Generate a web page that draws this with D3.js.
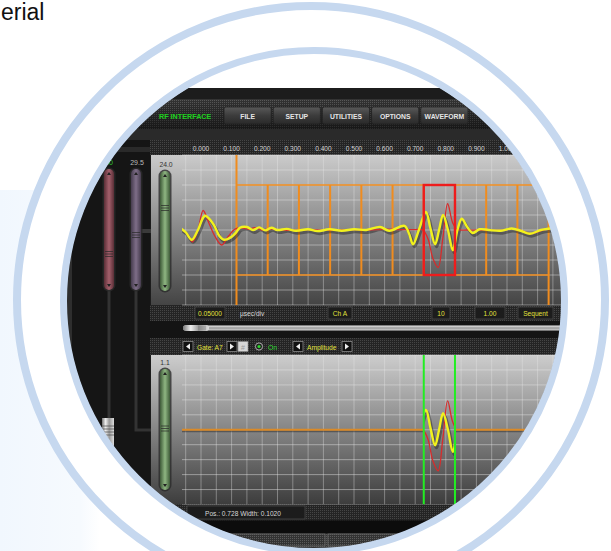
<!DOCTYPE html>
<html><head><meta charset="utf-8">
<script src="https://cdn.jsdelivr.net/npm/d3@7"></script>
<style>body{margin:0;background:#fff}svg{display:block}</style>
</head><body>
<script>
// ---------------- DATA ----------------
const tickValues = [0.0, 0.1, 0.2, 0.3, 0.4, 0.5, 0.6, 0.7, 0.8, 0.9, 1.0];
const tickLabels = ["0.000","0.100","0.200","0.300","0.400","0.500","0.600","0.700","0.800","0.900","1.000"];
const menuItems = ["FILE","SETUP","UTILITIES","OPTIONS","WAVEFORM"];
const appTitle = "RF INTERFACE";
// [time µs, amplitude %]
const yellowTrace = [[-0.065,2],[-0.05,-3],[-0.03,-13],[-0.01,0],[0.013,19],[0.04,8],[0.06,-8],[0.075,-13],[0.10,-9],[0.115,-3],[0.127,3],[0.15,4],[0.17,0],[0.19,3.5],[0.21,-0.5],[0.23,3],[0.25,0],[0.28,1.5],[0.31,-1],[0.35,1],[0.38,-1.5],[0.42,1],[0.46,-1],[0.50,1],[0.54,0],[0.585,4],[0.615,-1],[0.665,5.5],[0.68,-5],[0.693,-19],[0.712,0],[0.735,24],[0.75,2],[0.765,-19],[0.778,0],[0.791,20],[0.807,0],[0.823,-27],[0.838,0],[0.852,15],[0.87,4],[0.888,-4],[0.91,1],[0.94,0],[0.98,-1],[1.015,2],[1.045,-1],[1.075,-5],[1.11,0],[1.14,2],[1.19,4],[1.25,3]];
const redTrace = [[-0.065,1],[-0.045,-5],[-0.028,-16],[-0.01,0],[0.007,26],[0.025,10],[0.045,-8],[0.068,-20],[0.09,-8],[0.11,1],[0.13,3],[0.155,1],[0.175,3],[0.2,0],[0.22,1.5],[0.25,0.5],[0.3,-0.5],[0.35,0.5],[0.4,-0.5],[0.45,0],[0.5,0.5],[0.55,0],[0.6,1],[0.65,0.5],[0.7,0.5],[0.725,0],[0.742,-12],[0.758,-38],[0.775,-50],[0.79,-12],[0.806,35],[0.822,10],[0.836,1],[0.87,0],[0.92,0],[0.98,-0.5],[1.02,1.5],[1.05,-1],[1.075,-5],[1.11,-1],[1.14,2],[1.19,3],[1.25,3]];
const gateStarts = [0.116,0.218,0.320,0.422,0.524,0.626,0.728,0.830,0.932,1.034];
const gateWidth = 0.102;
const gateLevels = [60,-60];
const selectedGate = 6;
const upperGainLabel = "24.0";
const lowerGain = 1.1;
const leftSliderLabels = ["30","29.5"];
const statusTexts = ["0.05000","µsec/div","Ch  A","10","1.00","Sequent"];
const gateCtrlTexts = ["Gate: A7","On","Amplitude"];
const posText = "Pos.:  0.728 Width: 0.1020";
const headingText = "erial";

// ---------------- LAYOUT ----------------
const W=611,H=551;
const svg=d3.select("body").append("svg").attr("width",W).attr("height",H);
const defs=svg.append("defs");
const ff="'Liberation Sans', Arial, sans-serif";

function vgrad(id,stops){const g=defs.append("linearGradient").attr("id",id).attr("x1",0).attr("y1",0).attr("x2",0).attr("y2",1);
  stops.forEach(s=>g.append("stop").attr("offset",s[0]).attr("stop-color",s[1]).attr("stop-opacity",s[2]==null?1:s[2]));}
function hgrad(id,stops){const g=defs.append("linearGradient").attr("id",id).attr("x1",0).attr("y1",0).attr("x2",1).attr("y2",0);
  stops.forEach(s=>g.append("stop").attr("offset",s[0]).attr("stop-color",s[1]).attr("stop-opacity",s[2]==null?1:s[2]));}
vgrad("plotU",[[0,"#cbcbcb"],[0.45,"#8e8e8e"],[1,"#444"]]);
vgrad("plotL",[[0,"#cdcdcd"],[0.45,"#8c8c8c"],[1,"#3c3c3c"]]);
vgrad("menuShade",[[0,"#000",0],[1,"#000",0.55]]);
vgrad("btn",[[0,"#5a5a5a"],[0.5,"#3c3c3c"],[1,"#2a2a2a"]]);
vgrad("scroll",[[0,"#f0f0f0"],[0.5,"#9a9a9a"],[1,"#d8d8d8"]]);
hgrad("sGreen",[[0,"#3e5a38"],[0.5,"#8fb682"],[1,"#3e5a38"]]);
hgrad("sRed",[[0,"#5a2e36"],[0.5,"#a4606c"],[1,"#5a2e36"]]);
hgrad("sPurple",[[0,"#463c4e"],[0.5,"#7e6e88"],[1,"#463c4e"]]);
hgrad("metal",[[0,"#777"],[0.3,"#eee"],[0.6,"#999"],[1,"#ddd"]]);
hgrad("bluebg",[[0,"#f1f7fe"],[0.8,"#f6fafe"],[1,"#fff"]]);

const p1=defs.append("pattern").attr("id","tex").attr("width",2).attr("height",2).attr("patternUnits","userSpaceOnUse");
p1.append("rect").attr("width",2).attr("height",2).attr("fill","#242424");
p1.append("rect").attr("width",1).attr("height",1).attr("fill","#454545");
const p2=defs.append("pattern").attr("id","tex2").attr("width",2).attr("height",2).attr("patternUnits","userSpaceOnUse");
p2.append("rect").attr("width",2).attr("height",2).attr("fill","#333");
p2.append("rect").attr("width",1).attr("height",1).attr("fill","#5a5a5a");

const CX=314, CY=301, RIN=250.5;
defs.append("clipPath").attr("id","circ").append("circle").attr("cx",CX).attr("cy",CY).attr("r",RIN-3);

// background outside
svg.append("rect").attr("x",0).attr("y",190).attr("width",100).attr("height",H-190).attr("fill","url(#bluebg)");
svg.append("circle").attr("cx",311).attr("cy",300).attr("r",294).attr("fill","#fff");
svg.append("text").attr("x",1).attr("y",20).attr("font-family",ff).attr("font-size",23).attr("fill","#111").text(headingText);

// ---------------- SCREENSHOT ----------------
const scr=svg.append("g").attr("clip-path","url(#circ)");
scr.append("rect").attr("x",40).attr("y",88).attr("width",580).attr("height",470).attr("fill","#1c1c1c").attr("rx",12);

// scales
const x=d3.scaleLinear().domain([0,1]).range([201,507]);
const yU=d3.scaleLinear().domain([-100,100]).range([305,155]);
const yL=d3.scaleLinear().domain([-100,100]).range([504.5,355]);

// left panel
scr.append("rect").attr("x",40).attr("y",140).attr("width",110).attr("height",420).attr("fill","#151515");
scr.append("rect").attr("x",67).attr("y",220).attr("width",5).attr("height",200).attr("fill","#2e2e2e");
scr.append("rect").attr("x",88).attr("y",147).attr("width",64).attr("height",5).attr("fill","#2a2a2a");
// tracks
scr.append("path").attr("d","M109,290V420").attr("stroke","#333").attr("stroke-width",3).attr("fill","none");
scr.append("path").attr("d","M136,290V430H152").attr("stroke","#333").attr("stroke-width",3).attr("fill","none");
scr.append("path").attr("d","M141,231H152").attr("stroke","#3a3a3a").attr("stroke-width",4).attr("fill","none");
// metal handle
scr.append("rect").attr("x",102).attr("y",418).attr("width",12).attr("height",30).attr("fill","url(#metal)");
[426,429,432,435].forEach(yy=>scr.append("line").attr("x1",102).attr("x2",114).attr("y1",yy).attr("y2",yy).attr("stroke","#555").attr("stroke-width",0.8));

function slider(g,x0,y0,w,h,grad,hy){
  g.append("rect").attr("x",x0-1.5).attr("y",y0-1.5).attr("width",w+3).attr("height",h+3).attr("rx",(w+3)/2).attr("fill","#2a2a2a").attr("opacity",0.8);
  g.append("rect").attr("x",x0).attr("y",y0).attr("width",w).attr("height",h).attr("rx",w/2).attr("fill",`url(#${grad})`);
  const cx=x0+w/2;
  g.append("path").attr("d",`M${cx-2},${y0+6}L${cx+2},${y0+6}L${cx},${y0+3}Z`).attr("fill","#222");
  g.append("path").attr("d",`M${cx-2},${y0+h-6}L${cx+2},${y0+h-6}L${cx},${y0+h-3}Z`).attr("fill","#222");
  [-2.5,0,2.5].forEach(d=>g.append("line").attr("x1",x0+1).attr("x2",x0+w-1).attr("y1",hy+d).attr("y2",hy+d).attr("stroke","#2a2a2a").attr("stroke-width",0.9).attr("opacity",0.8));
}
slider(scr,104,169,10,121,"sRed",254);
slider(scr,131,169,10,121,"sPurple",235);
scr.append("text").attr("x",109).attr("y",165).attr("text-anchor","middle").attr("font-family",ff).attr("font-size",7).attr("fill","#2ecc2e").text(leftSliderLabels[0]);
scr.append("text").attr("x",137).attr("y",165).attr("text-anchor","middle").attr("font-family",ff).attr("font-size",7).attr("fill","#bbb").text(leftSliderLabels[1]);

// menu bar
scr.append("rect").attr("x",40).attr("y",99).attr("width",580).attr("height",30).attr("fill","url(#tex2)");
scr.append("rect").attr("x",40).attr("y",99).attr("width",580).attr("height",30).attr("fill","url(#menuShade)");
scr.append("text").attr("x",159).attr("y",119).attr("font-family",ff).attr("font-weight","bold").attr("font-size",7.2).attr("fill","#1ed21e").text(appTitle);
const mb=d3.scaleBand().domain(menuItems).range([224,468]).paddingInner(0.04);
const btn=scr.selectAll("g.btn").data(menuItems).join("g");
btn.append("rect").attr("x",d=>mb(d)).attr("y",107).attr("width",mb.bandwidth()).attr("height",17).attr("rx",2).attr("fill","url(#btn)").attr("stroke","#222").attr("stroke-width",0.8);
btn.append("text").attr("x",d=>mb(d)+mb.bandwidth()/2).attr("y",118.5).attr("text-anchor","middle").attr("font-family",ff).attr("font-weight","bold").attr("font-size",6.8).attr("fill","#e6e6e6").text(d=>d);
scr.append("rect").attr("x",40).attr("y",129).attr("width",580).attr("height",11).attr("fill","#2a2a2a");

// ---------- UPPER PANEL ----------
scr.append("rect").attr("x",150).attr("y",140).attr("width",470).attr("height",15).attr("fill","url(#tex)");
scr.append("g").selectAll("text").data(tickValues).join("text")
  .attr("x",d=>x(d)).attr("y",151).attr("text-anchor","middle").attr("font-family",ff).attr("font-size",6.6).attr("fill","#d4d4d4")
  .text((d,i)=>tickLabels[i]);
scr.append("rect").attr("x",151).attr("y",155).attr("width",470).attr("height",150).attr("fill","url(#plotU)");
scr.append("rect").attr("x",150).attr("y",305).attr("width",470).attr("height",16).attr("fill","url(#tex)");

const gridT=d3.range(-0.05,1.3,0.05);
const gridA=d3.range(-100,101,20);
function grid(yS,top,bot){
  const g=scr.append("g");
  g.selectAll("line.v").data(gridT).join("line").attr("x1",d=>x(d)).attr("x2",d=>x(d)).attr("y1",top).attr("y2",bot).attr("stroke","#e8e8e8").attr("stroke-opacity",0.38);
  g.selectAll("line.h").data(gridA).join("line").attr("x1",182).attr("x2",620).attr("y1",d=>yS(d)).attr("y2",d=>yS(d)).attr("stroke","#e8e8e8").attr("stroke-opacity",0.45);
}
grid(yU,155,305);

// gates
const gU=scr.append("g");
const gEnd=gateStarts[gateStarts.length-1]+gateWidth;
gU.selectAll("line.gl").data(gateLevels).join("line").attr("x1",x(gateStarts[0])).attr("x2",x(gEnd)).attr("y1",d=>yU(d)).attr("y2",d=>yU(d)).attr("stroke","#f08c1e").attr("stroke-width",1.6);
const edges=gateStarts.concat([gEnd]);
gU.selectAll("line.ge").data(edges).join("line")
  .attr("x1",d=>x(d)).attr("x2",d=>x(d))
  .attr("y1",(d,i)=>(i===0||i===edges.length-1)?155:yU(gateLevels[0]))
  .attr("y2",(d,i)=>(i===0||i===edges.length-1)?305:yU(gateLevels[1]))
  .attr("stroke","#f08c1e").attr("stroke-width",2);

// traces upper
const lineU=d3.line().x(d=>x(d[0])).y(d=>yU(d[1])).curve(d3.curveCatmullRom.alpha(0.5));
defs.append("clipPath").attr("id","plotUclip").append("rect").attr("x",182).attr("y",155).attr("width",440).attr("height",150);
const tU=scr.append("g").attr("clip-path","url(#plotUclip)");
tU.append("path").datum(yellowTrace).attr("d",lineU).attr("fill","none").attr("stroke","#222").attr("stroke-opacity",0.45).attr("stroke-width",3).attr("transform","translate(1.5,2.5)");
tU.append("path").datum(redTrace).attr("d",lineU).attr("fill","none").attr("stroke","#d62c2c").attr("stroke-width",1.3);
tU.append("path").datum(yellowTrace).attr("d",lineU).attr("fill","none").attr("stroke","#f2f21c").attr("stroke-width",2.4);
// selected gate box
const sg=gateStarts[selectedGate];
scr.append("rect").attr("x",x(sg)).attr("y",yU(gateLevels[0])).attr("width",x(sg+gateWidth)-x(sg)).attr("height",yU(gateLevels[1])-yU(gateLevels[0]))
  .attr("fill","none").attr("stroke","#ee1c1c").attr("stroke-width",2.4);

// slider + label upper
slider(scr,160,171,10,120,"sGreen",208);
scr.append("text").attr("x",166).attr("y",167).attr("text-anchor","middle").attr("font-family",ff).attr("font-size",6.8).attr("fill","#333").text(upperGainLabel);

// status boxes
function box(x0,x1,y0,y1){scr.append("rect").attr("x",x0).attr("y",y0).attr("width",x1-x0).attr("height",y1-y0).attr("fill","#1c1c1c").attr("stroke","#4a4a4a").attr("stroke-width",0.8);}
const sBoxes=[[195,225],null,[328,352],[432,450],[475,505],[518,553]];
const sX=[210,240,340,441,490,535.5];
statusTexts.forEach((t,i)=>{
  if(sBoxes[i])box(sBoxes[i][0],sBoxes[i][1],307,319);
  scr.append("text").attr("x",sX[i]).attr("y",315.5).attr("text-anchor",sBoxes[i]?"middle":"start").attr("font-family",ff).attr("font-size",6.6)
    .attr("fill",sBoxes[i]?"#e2e23c":"#d8d8d8").text(t);
});

// scroll bar
scr.append("rect").attr("x",150).attr("y",321).attr("width",470).attr("height",17).attr("fill","#141414");
scr.append("rect").attr("x",183).attr("y",325.5).attr("width",440).attr("height",5).attr("rx",2.5).attr("fill","url(#scroll)");
scr.append("rect").attr("x",183).attr("y",325).attr("width",26).attr("height",6).attr("rx",3).attr("fill","url(#metal)");
[199,201,203,205].forEach(xx=>scr.append("line").attr("x1",xx).attr("x2",xx).attr("y1",325.5).attr("y2",330.5).attr("stroke","#666").attr("stroke-width",0.6));

// ---------- LOWER PANEL ----------
scr.append("rect").attr("x",150).attr("y",338).attr("width",470).attr("height",17).attr("fill","url(#tex)");
function arrowBtn(x0,dir){
  scr.append("rect").attr("x",x0).attr("y",341.5).attr("width",10).attr("height",10).attr("fill","#111").attr("stroke","#8a8a8a").attr("stroke-width",0.8);
  const cx=x0+5,cy=346.5;
  scr.append("path").attr("d",dir<0?`M${cx+2},${cy-3}L${cx-2},${cy}L${cx+2},${cy+3}Z`:`M${cx-2},${cy-3}L${cx+2},${cy}L${cx-2},${cy+3}Z`).attr("fill","#eee");
}
arrowBtn(183,-1);
scr.append("text").attr("x",197).attr("y",349.5).attr("font-family",ff).attr("font-size",6.6).attr("fill","#e2e23c").text(gateCtrlTexts[0]);
arrowBtn(227,1);
scr.append("rect").attr("x",238).attr("y",341.5).attr("width",10).attr("height",10).attr("fill","#d6d6d6").attr("stroke","#888").attr("stroke-width",0.6);
scr.append("text").attr("x",243).attr("y",349.5).attr("text-anchor","middle").attr("font-family",ff).attr("font-size",7).attr("fill","#999").text("#");
scr.append("circle").attr("cx",259).attr("cy",346.5).attr("r",3.6).attr("fill","#222").attr("stroke","#bbb").attr("stroke-width",0.9);
scr.append("circle").attr("cx",259).attr("cy",346.5).attr("r",1.6).attr("fill","#2ed82e");
scr.append("text").attr("x",268).attr("y",349.5).attr("font-family",ff).attr("font-size",6.8).attr("fill","#2ed82e").text(gateCtrlTexts[1]);
arrowBtn(293,-1);
scr.append("text").attr("x",307).attr("y",349.5).attr("font-family",ff).attr("font-size",6.6).attr("fill","#e2e23c").text(gateCtrlTexts[2]);
arrowBtn(342,1);

scr.append("rect").attr("x",151).attr("y",355).attr("width",470).attr("height",150).attr("fill","url(#plotL)");
grid(yL,355,504.5);
const g0=gateStarts[selectedGate], g1=g0+gateWidth;
// baseline outside the gate
const baseY=yL(0);
[[182,x(g0)],[x(g1),620]].forEach(s=>{
  scr.append("line").attr("x1",s[0]).attr("x2",s[1]).attr("y1",baseY+1.6).attr("y2",baseY+1.6).attr("stroke","#222").attr("stroke-opacity",0.45).attr("stroke-width",2);
  scr.append("line").attr("x1",s[0]).attr("x2",s[1]).attr("y1",baseY).attr("y2",baseY).attr("stroke","#dc8a26").attr("stroke-width",2);
});
defs.append("clipPath").attr("id","gateClip").append("rect").attr("x",x(g0)).attr("y",355).attr("width",x(g1)-x(g0)).attr("height",150);
const lineL=d3.line().x(d=>x(d[0])).y(d=>yL(d[1]*lowerGain)).curve(d3.curveCatmullRom.alpha(0.5));
const tL=scr.append("g").attr("clip-path","url(#gateClip)");
tL.append("path").datum(yellowTrace).attr("d",lineL).attr("fill","none").attr("stroke","#222").attr("stroke-opacity",0.45).attr("stroke-width",3).attr("transform","translate(1.5,2.5)");
tL.append("path").datum(redTrace).attr("d",lineL).attr("fill","none").attr("stroke","#d62c2c").attr("stroke-width",1.3);
tL.append("path").datum(yellowTrace).attr("d",lineL).attr("fill","none").attr("stroke","#f2f21c").attr("stroke-width",2.4);
[g0,g1].forEach(t=>scr.append("line").attr("x1",x(t)).attr("x2",x(t)).attr("y1",355).attr("y2",504.5).attr("stroke","#22ee22").attr("stroke-width",2));

slider(scr,160,369,10,121,"sGreen",428.5);
scr.append("text").attr("x",165).attr("y",365).attr("text-anchor","middle").attr("font-family",ff).attr("font-size",6.8).attr("fill","#333").text(String(lowerGain));

scr.append("rect").attr("x",150).attr("y",504.5).attr("width",470).attr("height",16).attr("fill","url(#tex)");
box(187,305,506,519);
scr.append("text").attr("x",205).attr("y",515.5).attr("font-family",ff).attr("font-size",6.6).attr("fill","#d8d8d8").text(posText);
scr.append("rect").attr("x",40).attr("y",520.5).attr("width",580).attr("height",13).attr("fill","#0c0c0c");
scr.append("rect").attr("x",40).attr("y",533.5).attr("width",580).attr("height",20).attr("fill","url(#tex2)");
[[227,325],[328,470]].forEach(b=>scr.append("rect").attr("x",b[0]).attr("y",534).attr("width",b[1]-b[0]).attr("height",12).attr("fill","none").attr("stroke","#6a6a6a").attr("stroke-width",0.8));

// rings
svg.append("circle").attr("cx",311).attr("cy",300).attr("r",294).attr("fill","none").attr("stroke","#c6d8ef").attr("stroke-width",8);
svg.append("circle").attr("cx",CX).attr("cy",CY).attr("r",RIN).attr("fill","none").attr("stroke","#c6d8ef").attr("stroke-width",7);
</script>
</body></html>
